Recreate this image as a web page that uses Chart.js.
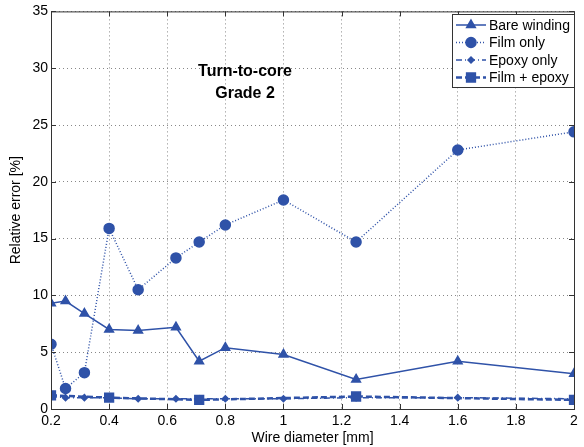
<!DOCTYPE html>
<html>
<head>
<meta charset="utf-8">
<script src="https://cdn.jsdelivr.net/npm/chart.js@4.4.0/dist/chart.umd.min.js"></script>
<style>
  html, body { margin: 0; padding: 0; background: #fff; }
  #wrap { width: 584px; height: 447px; }
</style>
</head>
<body>
<div id="wrap"><canvas id="chart" width="584" height="447"></canvas></div>
<script>
// Datos
const diameters = [0.2, 0.25, 0.315, 0.4, 0.5, 0.63, 0.71, 0.8, 1.0, 1.25, 1.6, 2.0];
const bareWinding = [9.3, 9.5, 8.4, 7.0, 6.9, 7.2, 4.2, 5.4, 4.8, 2.6, 4.2, 3.1];
const filmOnly = [5.7, 1.8, 3.2, 15.9, 10.5, 13.3, 14.7, 16.2, 18.4, 14.7, 22.8, 24.4];
const epoxyOnly = [1.1, 1.0, 1.0, 1.0, 0.9, 0.9, 0.9, 0.9, 0.9, 1.0, 1.0, 0.9];
const filmEpoxy = [1.2, null, null, 1.0, null, null, 0.8, null, null, 1.1, null, 0.8];
const seriesNames = ['Bare winding', 'Film only', 'Epoxy only', 'Film + epoxy'];
const annotation = ['Turn-to-core', 'Grade 2'];

const blue = 'rgb(47, 82, 168)';
const fontFamily = '"Liberation Sans", Arial, sans-serif';

function toPoints(values) {
    return values.map((v, i) => ({ x: diameters[i], y: v }));
}

// Marco del área y leyenda al estilo Matlab
const matlabBox = {
    id: 'matlabBox',
    afterDraw(chart) {
        const ctx = chart.ctx;
        const a = chart.chartArea;
        ctx.save();
        ctx.strokeStyle = '#333';
        ctx.lineWidth = 1;
        ctx.strokeRect(a.left + 0.5, a.top + 0.5, a.right - a.left, a.bottom - a.top);

        // Marcas de los ejes hacia dentro
        const xs = chart.scales.x, ys = chart.scales.y;
        ctx.beginPath();
        xs.ticks.forEach(t => {
            const px = Math.round(xs.getPixelForValue(t.value)) + 0.5;
            ctx.moveTo(px, a.bottom); ctx.lineTo(px, a.bottom - 5);
            ctx.moveTo(px, a.top); ctx.lineTo(px, a.top + 5);
        });
        ys.ticks.forEach(t => {
            const py = Math.round(ys.getPixelForValue(t.value)) + 0.5;
            ctx.moveTo(a.left, py); ctx.lineTo(a.left + 5, py);
            ctx.moveTo(a.right, py); ctx.lineTo(a.right - 5, py);
        });
        ctx.stroke();

        // Anotación
        ctx.fillStyle = '#000';
        ctx.font = 'bold 16px ' + fontFamily;
        ctx.textAlign = 'center';
        ctx.textBaseline = 'middle';
        ctx.fillText(annotation[0], 245, 72);
        ctx.fillText(annotation[1], 245, 94);

        // Leyenda
        const lx = 452, ly = 14, lw = 122, lh = 73;
        ctx.fillStyle = '#fff';
        ctx.fillRect(lx, ly, lw, lh);
        ctx.strokeStyle = '#333';
        ctx.strokeRect(lx + 0.5, ly + 0.5, lw, lh);
        ctx.font = '14px ' + fontFamily;
        ctx.textAlign = 'left';
        chart.data.datasets.forEach((ds, i) => {
            const y = ly + 11 + i * 17.5;
            ctx.strokeStyle = ds.borderColor;
            ctx.lineWidth = ds.borderWidth;
            ctx.setLineDash(ds.borderDash || []);
            ctx.beginPath();
            ctx.moveTo(lx + 4, y); ctx.lineTo(lx + 34, y);
            ctx.stroke();
            ctx.setLineDash([]);
            ctx.fillStyle = ds.pointBackgroundColor;
            ctx.strokeStyle = ds.pointBorderColor;
            Chart.helpers.drawPoint(ctx, {
                pointStyle: ds.pointStyle, radius: ds.pointRadius, borderWidth: 1
            }, lx + 19, y);
            ctx.fillStyle = '#000';
            ctx.fillText(ds.label, lx + 37, y + 1);
        });
        ctx.restore();
    }
};

const datasets = [
    { label: seriesNames[0], data: toPoints(bareWinding), borderWidth: 1.5, borderDash: [], pointStyle: 'triangle', pointRadius: 5 },
    { label: seriesNames[1], data: toPoints(filmOnly), borderWidth: 1.5, borderDash: [1, 2], pointStyle: 'circle', pointRadius: 5 },
    { label: seriesNames[2], data: toPoints(epoxyOnly), borderWidth: 1.5, borderDash: [6, 3, 1, 3], pointStyle: 'rectRot', pointRadius: 3 },
    { label: seriesNames[3], data: toPoints(filmEpoxy), borderWidth: 2.5, borderDash: [6, 3], pointStyle: 'rect', pointRadius: 5.5 }
].map(ds => Object.assign(ds, {
    borderColor: blue,
    backgroundColor: blue,
    pointBackgroundColor: blue,
    pointBorderColor: blue,
    spanGaps: true,
    tension: 0,
    fill: false
}));

new Chart(document.getElementById('chart').getContext('2d'), {
    type: 'line',
    data: { datasets: datasets },
    options: {
        responsive: false,
        animation: false,
        layout: { padding: { top: 10, right: 10, left: 0, bottom: 0 } },
        plugins: { legend: { display: false }, tooltip: { enabled: false } },
        scales: {
            x: {
                type: 'linear',
                min: 0.2,
                max: 2,
                afterFit(scale) { scale.height = 38; },
                ticks: {
                    stepSize: 0.2,
                    color: '#000',
                    padding: 4,
                    font: { family: fontFamily, size: 14 },
                    callback: v => Number(v.toFixed(1)).toString()
                },
                grid: { color: '#888', lineWidth: 1, drawTicks: false },
                border: { display: false, dash: [1, 3] },
                title: {
                    display: true,
                    text: 'Wire diameter [mm]',
                    color: '#000',
                    padding: { top: 0, bottom: 0 },
                    font: { family: fontFamily, size: 14 }
                }
            },
            y: {
                type: 'linear',
                min: 0,
                max: 35,
                afterFit(scale) { scale.width = 51; },
                ticks: {
                    stepSize: 5,
                    color: '#000',
                    padding: 3,
                    font: { family: fontFamily, size: 14 }
                },
                grid: { color: '#888', lineWidth: 1, drawTicks: false },
                border: { display: false, dash: [1, 3] },
                title: {
                    display: true,
                    text: 'Relative error [%]',
                    color: '#000',
                    padding: { top: 8, bottom: 0 },
                    font: { family: fontFamily, size: 14 }
                }
            }
        }
    },
    plugins: [matlabBox]
});
</script>
</body>
</html>
